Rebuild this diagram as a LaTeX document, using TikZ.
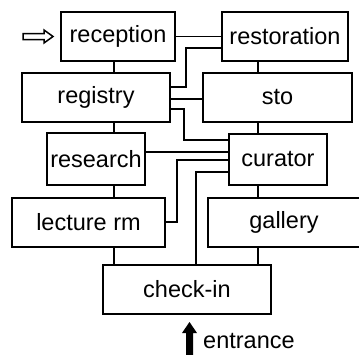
\documentclass[tikz,border=0pt]{standalone}
\usepackage{fontspec}
\setmainfont{Liberation Sans}

\begin{document}
\begin{tikzpicture}[x=1pt,y=-1pt,
  room/.style={draw,rectangle,line width=2.4pt,inner sep=0pt,outer sep=0pt,
    minimum height=49pt,font=\fontsize{23.5}{28}\selectfont},
  link/.style={line width=1.1pt}]
\useasboundingbox (0,0) rectangle (359,354);
\clip (0,0) rectangle (359,354);
\node[room,minimum width=114pt] (reception) at (118,36.5) {reception};
\node[room,minimum width=126pt] (restoration) at (285,36.5) {restoration};
\node[room,minimum width=148pt] (registry) at (96,97.5) {registry};
\node[room,minimum width=149pt] (sto) at (277.5,97.5) {sto};
\node[room,minimum width=98pt,minimum height=52pt] (research) at (96,159) {research};
\node[room,minimum width=98pt,minimum height=51pt] (curator) at (278,159.5) {curator};
\node[room,minimum width=153pt] (lecture) at (88.5,222.5) {lecture rm};
\node[room,minimum width=152pt] (gallery) at (284,222.5) {gallery};
\node[room,minimum width=168pt] (checkin) at (187,289.5) {check-in};
\node[anchor=west,inner sep=0pt,font=\fontsize{23.5}{28}\selectfont] (entrance) at (203,341) {entrance};
\coordinate (lcol) at (114,0);
\coordinate (rcol) at (258,0);
% vertical links
\draw[link] (reception.south -| lcol) -- (registry.north -| lcol);
\draw[link] (registry.south -| lcol) -- (research.north -| lcol);
\draw[link] (research.south -| lcol) -- (lecture.north -| lcol);
\draw[link] (lecture.south -| lcol) -- (checkin.north -| lcol);
\draw[link] (restoration.south -| rcol) -- (sto.north -| rcol);
\draw[link] (sto.south -| rcol) -- (curator.north -| rcol);
\draw[link] (curator.south -| rcol) -- (gallery.north -| rcol);
\draw[link] (gallery.south -| rcol) -- (checkin.north -| rcol);
% cross links
\draw[link] (reception.east) -- (restoration.west);
\draw[link] (registry.east |- 0,87) -- (186,87) |- (restoration.west |- 0,48);
\draw[link] (registry.east |- 0,99) -- (sto.west |- 0,99);
\draw[link] (registry.east |- 0,109) -- (184,109) |- (curator.west |- 0,140);
\draw[link] (research.east |- 0,152) -- (curator.west |- 0,152);
\draw[link] (lecture.east |- 0,222) -- (177,222) |- (curator.west |- 0,160);
\draw[link] (checkin.north -| 196,0) |- (curator.west |- 0,172);
% arrows
\draw[line width=1.5pt,shift={(reception.west)}] (-38,-3) -- (-17,-3) -- (-17,-6.5) -- (-8,0)
  -- (-17,6.5) -- (-17,3) -- (-38,3) -- cycle;
\fill[shift={(entrance.west)}] (-13.5,-19) -- (-6,-8) -- (-10,-8) -- (-10,14) -- (-17,14)
  -- (-17,-8) -- (-21,-8) -- cycle;
\end{tikzpicture}
\end{document}
